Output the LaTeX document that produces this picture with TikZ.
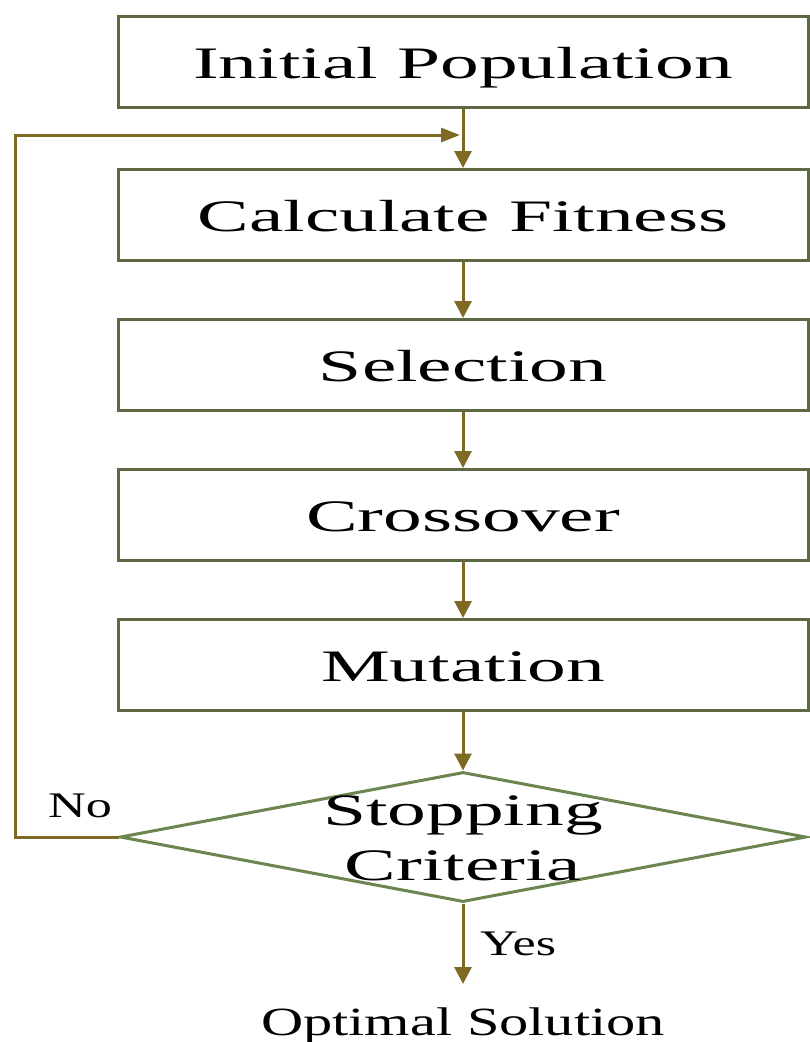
\documentclass[tikz,border=0pt]{standalone}
\usepackage{fontspec}
\usepackage{graphicx}
\setmainfont{Liberation Serif}
\usetikzlibrary{shapes.geometric,arrows.meta}
\definecolor{boxline}{HTML}{5E6843}
\definecolor{dialine}{HTML}{6A8550}
\definecolor{flow}{HTML}{7E6A22}
% the lettering is set wide
\newcommand{\widetext}[2][1.72]{\scalebox{#1}[1]{#2}}
\tikzset{
  stepbox/.style={draw=boxline, line width=3pt, rectangle, minimum width=690pt,
    minimum height=91pt, inner sep=0pt, text height=32pt, text depth=0pt,
    font=\fontsize{45}{50}\selectfont},
  decision/.style={draw=dialine, line width=3pt, diamond, minimum width=686pt,
    minimum height=130pt, inner sep=0pt},
  flowline/.style={draw=flow, line width=3pt, -{Triangle[width=17pt,length=17pt]}},
  lbl/.style={font=\fontsize{36}{40}\selectfont, inner sep=0pt},
}
\begin{document}
\begin{tikzpicture}[x=1pt,y=-1pt]
  \useasboundingbox (0,0) rectangle (810,1042);
  \fill[white] (0,0) rectangle (810,1042);

  \node[stepbox] (init) at (463,62) {\widetext{Initial Population}};
  \node[stepbox] (fit)  at (463,215) {\widetext{Calculate Fitness}};
  \node[stepbox] (sel)  at (463,365) {\widetext{Selection}};
  \node[stepbox] (cross) at (463,515) {\widetext{Crossover}};
  \node[stepbox] (mut)  at (463,665) {\widetext{Mutation}};
  \node[decision] (stop) at (463,837) {};
  \node[align=center, font=\fontsize{45}{55}\selectfont, inner sep=0pt, anchor=base]
    (stoptext) at (463,880) {\widetext{Stopping}\\\widetext{Criteria}};
  \node[font=\fontsize{40}{44}\selectfont, inner sep=0pt, anchor=base]
    (opt) at (463,1035) {\widetext[1.46]{Optimal Solution}};

  \coordinate (join) at (463,135);
  \coordinate (corner) at (15,837);
  \coordinate (yesend) at (463,984);

  \draw[flowline] (init.south) -- (fit.north);
  \draw[flowline] (fit.south) -- (sel.north);
  \draw[flowline] (sel.south) -- (cross.north);
  \draw[flowline] (cross.south) -- (mut.north);
  \draw[flowline] (mut.south) -- (stop.north);
  \draw[flowline] (stop.south) -- (yesend);
  \draw[flowline, -{Triangle[width=14pt,length=19pt]}, shorten >=3pt]
    (stop.west) -- (corner) |- (join);

  \node[lbl, anchor=base west] (no) at (48,817) {\widetext[1.45]{No}};
  \node[lbl, anchor=base west] (yes) at (480,955) {\widetext[1.45]{Yes}};
\end{tikzpicture}
\end{document}
